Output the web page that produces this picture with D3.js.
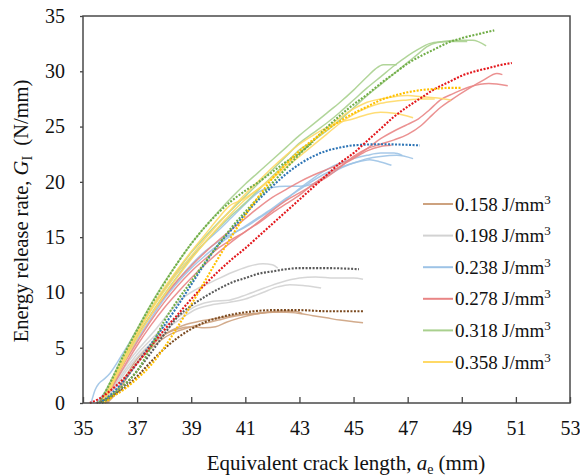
<!DOCTYPE html>
<html>
<head>
<meta charset="utf-8">
<script src="https://cdn.jsdelivr.net/npm/d3@7"></script>
</head>
<body style="margin:0;background:#fff">
<svg id="chart" width="580" height="476" font-family="Liberation Serif"></svg>
<script>
// axis ticks
const xTicks = [35, 37, 39, 41, 43, 45, 47, 49, 51, 53];
const yTicks = [0, 5, 10, 15, 20, 25, 30, 35];

// legend labels
const energies = ['0.158', '0.198', '0.238', '0.278', '0.318', '0.358'];

// specimen curves [a_e (mm), G_I (N/mm)]
const brown1 = [[35.85,0],[36.2,0.9],[36.6,2.2],[37,3.6],[37.5,4.9],[38,5.9],[38.5,6.5],[39,6.9],[39.5,7.2],[40,7.5],[40.5,7.8],[41,8.0],[41.5,8.1],[42,8.2],[42.5,8.2],[43,8.1],[43.5,7.9],[44,7.7],[44.5,7.5],[45,7.35],[45.35,7.25]];
const brown2 = [[35.8,0],[36.2,1.0],[36.6,2.5],[37,4.0],[37.5,5.3],[38,6.2],[38.5,6.7],[39,6.9],[39.5,6.8],[39.9,6.9],[40.3,7.3],[40.8,7.7],[41.3,8.0],[41.8,8.2],[42.3,8.3],[42.8,8.3],[43.1,8.1]];
const brown3 = [[35.9,0],[36.3,1.1],[36.8,3.0],[37.3,4.6],[37.8,5.8],[38.3,6.6],[38.8,7.1],[39.3,7.4],[39.8,7.6],[40.3,7.8],[40.8,8.0],[41.3,8.1],[41.8,8.2],[42.3,8.3],[42.7,8.3]];
const brownFit = [[35.5,0],[36,0.5],[36.5,1.3],[37,2.4],[37.5,3.7],[38,4.9],[38.5,5.9],[39,6.7],[39.5,7.3],[40,7.7],[40.5,8.0],[41,8.2],[42,8.4],[43,8.4],[44,8.3],[45.4,8.3]];

const gray1 = [[35.5,0],[35.8,0.8],[36.2,2.0],[36.7,3.8],[37.2,5.3],[37.7,6.7],[38.2,8.2],[38.6,9.3],[39.2,10.3],[39.8,11.0],[40.5,11.8],[41.05,12.3],[41.65,12.6],[42,12.5],[42.2,12.2]];
const gray2 = [[35.6,0],[36,1.0],[36.5,2.8],[37,4.4],[37.5,5.7],[38,6.9],[38.6,7.9],[39.2,8.8],[39.8,9.2],[40.4,9.3],[41.05,9.8],[41.7,10.4],[42.3,10.9],[43,11.3],[43.6,11.4],[44.3,11.3],[45,11.3],[45.35,11.2]];
const gray3 = [[35.7,0],[36.1,1.1],[36.6,2.9],[37.1,4.4],[37.6,5.6],[38.1,6.7],[38.6,7.6],[39.2,8.5],[39.8,8.9],[40.4,9.1],[41,9.4],[41.65,10.0],[42.2,10.5],[42.65,10.7],[43.2,10.6],[43.8,10.4]];
const grayFit = [[35.7,0],[36,0.5],[36.5,1.5],[37,2.9],[37.5,4.5],[38,6.2],[38.5,7.8],[39,8.8],[39.5,9.6],[40,10.3],[40.5,10.9],[41,11.3],[41.5,11.7],[42,11.9],[42.5,12.1],[43,12.2],[44,12.2],[45.2,12.1]];

const blue1 = [[35.3,0],[35.45,1.2],[35.6,1.8],[35.8,2.2],[36,2.7],[36.5,4.6],[37,6.6],[37.5,8.5],[38,10.2],[38.5,11.8],[39,13.2],[39.5,14.5],[40,15.6],[40.5,16.8],[41,18.0],[41.5,19.1],[42,19.5],[42.5,19.6],[43,19.6],[43.5,19.8],[44,20.5],[44.5,21.2],[45,21.7],[45.5,22.1],[46,22.3],[46.6,22.4],[47.2,22.1]];
const blue2 = [[35.6,0],[36,1.4],[36.5,3.6],[37,5.7],[37.5,7.6],[38,9.4],[38.5,10.9],[39,12.2],[39.5,13.3],[40,14.3],[40.5,15.2],[41,16.0],[41.5,16.8],[42,17.6],[42.5,18.5],[43,19.3],[43.5,20.1],[44,20.8],[44.5,21.3],[45,21.7],[45.6,22.0],[46,21.8],[46.4,21.5]];
const blue3 = [[35.5,0],[35.9,1.3],[36.5,4.0],[37,6.0],[37.5,7.9],[38,9.6],[38.5,11.1],[39,12.5],[39.5,13.7],[40,14.6],[40.5,15.3],[41,15.9],[41.5,16.7],[42,17.5],[42.5,18.4],[43,19.4],[43.5,20.3],[44,21.1],[44.5,21.7],[45,22.1],[45.5,22.4],[46,22.6],[46.5,22.6],[46.8,22.4]];
const blueFit = [[35.6,0],[36,0.7],[36.5,2.0],[37,3.6],[37.5,5.3],[38,7.0],[38.5,8.8],[39,10.7],[39.5,12.6],[40,14.3],[40.5,15.7],[41,17.1],[41.5,18.4],[42,19.6],[42.5,20.7],[43,21.6],[43.5,22.3],[44,22.8],[44.5,23.1],[45,23.3],[46,23.4],[47.45,23.3]];

const red1 = [[35.6,0],[36,1.3],[36.5,3.5],[37,5.5],[37.5,7.4],[38,9.1],[38.5,10.6],[39,11.9],[39.5,13.0],[40,14.0],[40.5,14.8],[41,15.5],[41.5,16.4],[42,17.4],[42.5,18.3],[43,19.0],[43.5,19.7],[44,20.4],[44.5,21.3],[45,22.3],[45.5,23.0],[46,23.4],[46.5,23.8],[47,24.3],[47.5,25.1],[47.8,25.8],[48.2,26.7],[48.6,27.4],[49.3,28.5],[49.8,29.2],[50.3,29.8],[50.5,29.7]];
const red2 = [[35.6,0],[36,1.5],[36.5,3.9],[37,6.0],[37.5,7.9],[38,9.6],[38.5,11.1],[39,12.4],[39.5,13.6],[40,14.7],[40.5,15.7],[41,16.7],[41.5,17.7],[42,18.6],[42.5,19.3],[43,20.0],[43.5,20.6],[44,21.1],[44.5,21.6],[45,22.2],[45.5,23.0],[46,23.9],[46.5,24.6],[47,25.2],[47.4,25.7],[47.8,26.5],[48.2,27.4],[48.7,28.0],[49.3,28.6],[50,28.9],[50.7,28.7]];
const red3 = [[35.7,0],[36,1.1],[36.5,3.2],[37,5.2],[37.5,7.0],[38,8.6],[38.5,10.0],[39,11.3],[39.5,12.5],[40,13.6],[40.5,14.6],[41,15.5],[41.5,16.3],[42,17.2],[42.5,18.0],[43,18.8],[43.5,19.8],[44,20.6],[44.5,21.4],[45,22.1],[45.5,22.8],[46,23.2],[46.4,23.3]];
const redFit = [[35.25,0],[35.6,0.4],[36,1.1],[36.5,2.2],[37,3.6],[37.5,5.1],[38,6.6],[38.5,8.0],[39,9.4],[39.5,10.7],[40,11.9],[40.5,13.0],[41,14.0],[41.5,15.1],[42,16.2],[42.5,17.3],[43,18.4],[43.5,19.5],[44,20.6],[44.5,21.7],[45,22.6],[45.5,23.7],[46,24.8],[46.5,25.9],[47,26.8],[47.5,27.6],[48,28.4],[48.5,29.0],[49,29.6],[49.5,30.0],[50,30.3],[50.4,30.55],[50.85,30.75]];

const green1 = [[35.6,0],[36,1.9],[36.5,4.4],[37,6.7],[37.5,8.9],[38,10.9],[38.5,12.7],[39,14.4],[39.5,15.9],[40,17.3],[40.5,18.6],[41,19.8],[41.5,20.9],[42,22.0],[42.5,23.1],[43,24.2],[43.5,25.2],[44,26.2],[44.5,27.2],[45,28.3],[45.5,29.5],[45.8,30.2],[46.1,30.6],[46.6,30.6]];
const green2 = [[35.7,0],[36,1.5],[36.5,4.0],[37,6.3],[37.5,8.4],[38,10.3],[38.5,12.0],[39,13.6],[39.5,15.0],[40,16.3],[40.5,17.5],[41,18.7],[41.5,19.9],[42,21.1],[42.5,22.3],[43,23.5],[43.5,24.4],[44,25.3],[44.5,26.3],[45,27.4],[45.5,28.5],[46,29.5],[46.5,30.5],[47,31.4],[47.4,32.0],[47.8,32.5],[48.3,32.7],[49,32.8],[49.4,32.8],[49.9,32.3]];
const green3 = [[35.7,0],[36,1.3],[36.5,3.8],[37,6.0],[37.5,8.0],[38,9.8],[38.5,11.5],[39,13.1],[39.5,14.5],[40,15.8],[40.5,17.0],[41,18.1],[41.5,19.3],[42,20.5],[42.5,21.7],[43,22.9],[43.5,23.7],[44,24.6],[44.5,25.6],[45,26.7],[45.5,27.8],[46,28.8],[46.5,29.8],[47,30.8],[47.4,31.6],[47.7,32.2],[48.1,32.6],[48.6,32.7],[49.2,32.7]];
const greenFit = [[35.7,0],[36,0.6],[36.5,1.6],[37,2.9],[37.5,5.0],[38,7.4],[38.5,9.3],[39,11.0],[39.5,12.7],[40,14.3],[40.5,15.9],[41,17.3],[41.5,18.6],[42,19.9],[42.5,21.2],[43,22.5],[43.5,23.7],[44,24.9],[44.5,26.0],[45,27.0],[45.5,27.9],[46,28.9],[46.5,29.8],[47,30.7],[47.5,31.4],[48,32.0],[48.5,32.6],[49,33.0],[49.5,33.3],[50.2,33.7]];
const greenFit2 = [[35.6,0],[36,1.8],[36.5,4.3],[37,6.6],[37.5,8.8],[38,10.8],[38.5,12.7],[39,14.4],[39.5,15.9],[40,17.2],[40.5,18.3],[41,19.2],[41.5,20.0],[42,20.9],[42.5,21.8],[43,22.6],[43.5,23.6]];

const yellow1 = [[35.7,0],[36,1.6],[36.5,4.1],[37,6.4],[37.5,8.5],[38,10.4],[38.5,12.1],[39,13.7],[39.5,15.2],[40,16.7],[40.4,17.8],[40.9,18.4],[41.4,19.2],[42,20.4],[42.5,21.5],[43,22.6],[43.5,23.7],[44,24.8],[44.5,25.8],[45,26.6],[45.5,27.2],[46,27.5],[46.5,27.7],[47,27.8],[47.5,27.7],[48,27.6],[48.6,27.4]];
const yellow2 = [[35.7,0],[36,1.4],[36.5,3.9],[37,6.2],[37.5,8.3],[38,10.1],[38.5,11.8],[39,13.3],[39.5,14.8],[40,16.2],[40.5,17.6],[41,18.9],[41.5,20.1],[42,21.3],[42.5,22.4],[43,23.4],[43.5,24.2],[44,24.9],[44.5,25.4],[45,25.7],[45.5,26.1],[46,26.3],[46.5,26.2],[47.2,25.8]];
const yellow3 = [[35.8,0],[36,1.2],[36.5,3.6],[37,5.9],[37.5,7.9],[38,9.7],[38.5,11.4],[39,13.0],[39.5,14.5],[40,15.9],[40.5,17.2],[41,18.4],[41.5,19.4],[42,20.3],[42.5,21.3],[43,22.3],[43.5,23.3],[44,24.3],[44.5,25.3],[45,26.1],[45.5,26.7],[46,27.1],[46.5,27.3],[47,27.4],[47.5,27.5],[48,27.5]];
const yellowFit = [[35.8,0],[36,0.4],[36.5,1.2],[37,2.2],[37.5,3.4],[38,5.0],[38.5,6.9],[39,8.9],[39.5,11.0],[40,13.1],[40.5,15.1],[41,17.0],[41.5,18.7],[42,20.3],[42.5,21.6],[43,22.8],[43.5,23.8],[44,24.7],[44.5,25.5],[45,26.2],[45.5,26.8],[46,27.4],[46.5,27.8],[47,28.1],[47.5,28.3],[48,28.4],[48.5,28.5],[49,28.5]];

// colours: light for specimens, strong for the dotted fits
const solidColors = ['#cda27f', '#d2d2d2', '#9dc3e6', '#e98585', '#a9d08e', '#ffd966'];
const fitColors = ['#7b4a1f', '#5a5a5a', '#2e75b6', '#e3161b', '#70ad47', '#ffc000'];

const specimens = [
  [brown1, brown2, brown3],
  [gray1, gray2, gray3],
  [blue1, blue2, blue3],
  [red1, red2, red3],
  [green1, green2, green3],
  [yellow1, yellow2, yellow3]
];
const fits = [
  {group: 0, values: brownFit},
  {group: 1, values: grayFit},
  {group: 2, values: blueFit},
  {group: 4, values: greenFit2},
  {group: 3, values: redFit},
  {group: 4, values: greenFit},
  {group: 5, values: yellowFit}
];

const FONT = 'Liberation Serif';

const margin = {top: 16, right: 10, bottom: 73, left: 83};
const width = 580 - margin.left - margin.right;
const height = 476 - margin.top - margin.bottom;

const svg = d3.select('#chart');
const g = svg.append('g').attr('transform', `translate(${margin.left},${margin.top})`);

const xScale = d3.scaleLinear().domain([35, 53]).range([0, width]);
const yScale = d3.scaleLinear().domain([0, 35]).range([height, 0]);

const line = d3.line()
  .curve(d3.curveMonotoneX)
  .x(d => xScale(d[0]))
  .y(d => yScale(d[1]));

// specimen curves
specimens.forEach((group, i) => {
  g.append('g')
    .selectAll('path')
    .data(group)
    .enter()
    .append('path')
      .attr('fill', 'none')
      .attr('stroke', solidColors[i])
      .attr('stroke-width', 1.5)
      .attr('stroke-opacity', 0.9)
      .attr('d', line);
});

// dotted fits on top
g.append('g')
  .selectAll('path')
  .data(fits)
  .enter()
  .append('path')
    .attr('fill', 'none')
    .attr('stroke', d => fitColors[d.group])
    .attr('stroke-width', 2.1)
    .attr('stroke-dasharray', '2,1.5')
    .attr('d', d => line(d.values));

// axes
const xAxis = d3.axisBottom(xScale).tickValues(xTicks).tickSizeInner(-6).tickSizeOuter(0).tickPadding(18);
const yAxis = d3.axisLeft(yScale).tickValues(yTicks).tickSizeInner(3).tickSizeOuter(0).tickPadding(15);

const gx = g.append('g').attr('transform', `translate(0,${height})`).call(xAxis);
const gy = g.append('g').call(yAxis);

[gx, gy].forEach(ax => {
  ax.attr('font-family', FONT).attr('font-size', 20);
  ax.select('.domain').remove();
  ax.selectAll('line').attr('stroke', '#444').attr('stroke-width', 1.3);
  ax.selectAll('text').attr('fill', '#111');
});

// frame
g.append('rect')
  .attr('width', width)
  .attr('height', height)
  .attr('fill', 'none')
  .attr('stroke', '#4a4a4a')
  .attr('stroke-width', 1.5);

// axis titles
const xTitle = svg.append('text')
  .attr('x', 346)
  .attr('y', 470)
  .attr('text-anchor', 'middle')
  .attr('font-family', FONT)
  .attr('font-size', 21)
  .attr('fill', '#111');
xTitle.append('tspan').text('Equivalent crack length, ');
xTitle.append('tspan').attr('font-style', 'italic').text('a');
xTitle.append('tspan').attr('dy', 4).attr('font-size', 14).text('e');
xTitle.append('tspan').attr('dy', -4).text('\u00a0(mm)');

const yTitle = svg.append('text')
  .attr('transform', 'translate(28,211) rotate(-90)')
  .attr('text-anchor', 'middle')
  .attr('font-family', FONT)
  .attr('font-size', 20.5)
  .attr('fill', '#111');
yTitle.append('tspan').text('Energy release rate, ');
yTitle.append('tspan').attr('font-style', 'italic').text('G');
yTitle.append('tspan').attr('dy', 4).attr('font-size', 14).text('I');
yTitle.append('tspan').attr('dy', -4).text('\u00a0\u00a0(N/mm)');

// legend
const legend = svg.append('g').attr('font-family', FONT).attr('font-size', 19).attr('fill', '#111');
energies.forEach((e, i) => {
  const y = 204 + i * 31.6;
  legend.append('line')
    .attr('x1', 423).attr('x2', 453)
    .attr('y1', y).attr('y2', y)
    .attr('stroke', solidColors[i])
    .attr('stroke-width', 2);
  const t = legend.append('text')
    .attr('x', 455)
    .attr('y', y + 6.5);
  t.append('tspan').text(e);
  t.append('tspan').attr('x', 502).text('J/mm');
  t.append('tspan').attr('dy', -7).attr('font-size', 13).text('3');
});
</script>
</body>
</html>
